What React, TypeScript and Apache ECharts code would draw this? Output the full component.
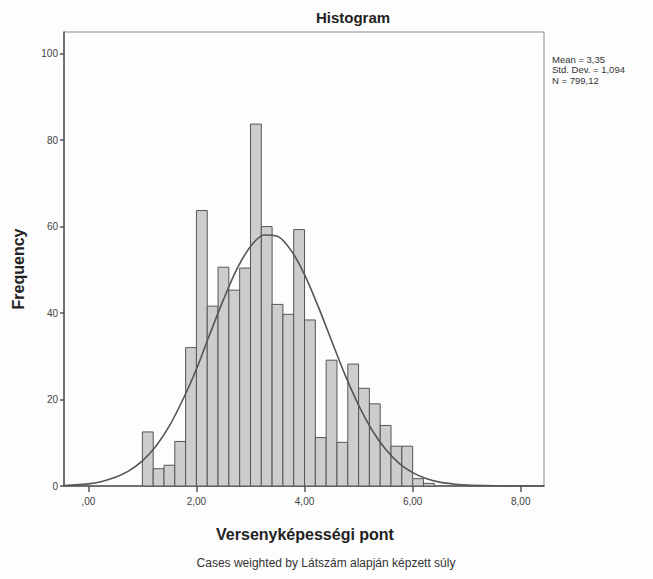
import React, { useEffect, useRef } from "react";
import * as echarts from "echarts";

// Histogram bins (lower edges) and frequencies
const binStarts = [1.0, 1.2, 1.4, 1.6, 1.8, 2.0, 2.2, 2.4, 2.6, 2.8, 3.0, 3.2, 3.4, 3.6, 3.8, 4.0, 4.2, 4.4, 4.6, 4.8, 5.0, 5.2, 5.4, 5.6, 5.8, 6.0, 6.2];
const binWidth = 0.2;
const frequencies = [12.5, 4.0, 4.8, 10.3, 32.0, 63.7, 41.6, 50.6, 45.3, 50.4, 83.7, 60.0, 42.0, 39.7, 59.3, 38.4, 11.2, 29.1, 10.1, 28.2, 22.6, 19.0, 14.0, 9.2, 9.2, 1.7, 0.6];

// Normal curve points
const curveX = [-0.45, 0, 0.25, 0.5, 0.75, 1.0, 1.25, 1.5, 1.75, 2.0, 2.25, 2.5, 2.75, 3.0, 3.25, 3.5, 3.75, 4.0, 4.25, 4.5, 4.75, 5.0, 5.25, 5.5, 5.75, 6.0, 6.25, 6.5, 6.75, 7.0, 7.5, 8.0, 8.43];
const curveY = [0.1, 0.5, 1.05, 2.0, 3.5, 5.8, 9.2, 13.9, 20.0, 27.0, 35.2, 43.1, 50.2, 55.4, 58.05, 57.75, 54.5, 48.9, 41.6, 33.6, 25.7, 18.7, 12.9, 8.5, 5.25, 3.1, 1.74, 0.9, 0.47, 0.2, 0.05, 0.01, 0.0];

const xTicks = [0, 2, 4, 6, 8];
const yTicks = [0, 20, 40, 60, 80, 100];

const statsLines = ["Mean = 3,35", "Std. Dev. = 1,094", "N = 799,12"];

const titleText = "Histogram";
const xName = "Versenyképességi pont";
const yName = "Frequency";
const footnote = "Cases weighted by Látszám alapján képzett súly";

const FONT = "'Liberation Sans', Arial, sans-serif";

export default function App() {
  const ref = useRef<HTMLDivElement>(null);

  useEffect(() => {
    if (!ref.current) return;
    const chart = echarts.init(ref.current, undefined, { renderer: "svg" });

    const barData = binStarts.map((s, i) => [s, s + binWidth, frequencies[i]]);
    const curveData = curveX.map((x, i) => [x, curveY[i]]);

    chart.setOption({
      animation: false,
      backgroundColor: "#fdfdfd",
      textStyle: { fontFamily: FONT },
      grid: {
        left: 64,
        right: 109,
        top: 32,
        bottom: 93,
        show: true,
        borderColor: "#8a8a8a",
        borderWidth: 1,
        backgroundColor: "transparent",
      },
      xAxis: {
        type: "value",
        min: -0.45,
        max: 8.43,
        splitLine: { show: false },
        axisLine: { show: true, onZero: false, lineStyle: { color: "#555", width: 1.5 } },
        axisTick: {
          show: true,
          customValues: xTicks,
          length: 6,
          lineStyle: { color: "#555", width: 1.5 },
        },
        axisLabel: {
          customValues: xTicks,
          color: "#444",
          fontSize: 10,
          fontFamily: FONT,
          margin: 10,
          formatter: (v: number) => (v === 0 ? ",00" : v.toFixed(2).replace(".", ",")),
        },
      },
      yAxis: {
        type: "value",
        min: 0,
        max: 105,
        splitLine: { show: false },
        axisLine: { show: true, onZero: false, lineStyle: { color: "#555", width: 1.5 } },
        axisTick: {
          show: true,
          customValues: yTicks,
          length: 4,
          lineStyle: { color: "#555", width: 1.5 },
        },
        axisLabel: {
          customValues: yTicks,
          color: "#444",
          fontSize: 10,
          fontFamily: FONT,
          margin: 6,
        },
      },
      series: [
        {
          type: "custom",
          data: barData,
          encode: { x: [0, 1], y: 2 },
          renderItem: (params: any, api: any) => {
            const p0 = api.coord([api.value(0), api.value(2)]);
            const p1 = api.coord([api.value(1), 0]);
            return {
              type: "rect",
              shape: { x: p0[0], y: p0[1], width: p1[0] - p0[0], height: p1[1] - p0[1] },
              style: { fill: "#cdcdcd", stroke: "#555", lineWidth: 1 },
            };
          },
          z: 2,
        },
        {
          type: "line",
          data: curveData,
          smooth: 0.3,
          showSymbol: false,
          lineStyle: { color: "#555", width: 1.6 },
          z: 3,
        },
      ],
      graphic: [
        {
          type: "text",
          x: 353,
          y: 17,
          style: {
            text: titleText,
            fontSize: 15,
            fontWeight: "bold",
            fontFamily: FONT,
            fill: "#222",
            align: "center",
            verticalAlign: "middle",
          },
        },
        ...statsLines.map((line, i) => ({
          type: "text",
          x: 552,
          y: 59 + i * 10.5,
          style: {
            text: line,
            fontSize: 9.5,
            fill: "#333",
            fontFamily: FONT,
            align: "left",
            verticalAlign: "middle",
          },
        })),
        {
          type: "text",
          x: 18,
          y: 269,
          rotation: Math.PI / 2,
          style: {
            text: yName,
            fontSize: 16,
            fontWeight: "bold",
            fontFamily: FONT,
            fill: "#222",
            align: "center",
            verticalAlign: "middle",
          },
        },
        {
          type: "text",
          x: 305,
          y: 534,
          style: {
            text: xName,
            fontSize: 16,
            fontWeight: "bold",
            fontFamily: FONT,
            fill: "#222",
            align: "center",
            verticalAlign: "middle",
          },
        },
        {
          type: "text",
          x: 326,
          y: 563,
          style: {
            text: footnote,
            fontSize: 12,
            fontFamily: FONT,
            fill: "#333",
            align: "center",
            verticalAlign: "middle",
          },
        },
      ],
    });

    return () => chart.dispose();
  }, []);

  return <div ref={ref} style={{ position: "fixed", left: 0, top: 0, width: 653, height: 579 }} />;
}
